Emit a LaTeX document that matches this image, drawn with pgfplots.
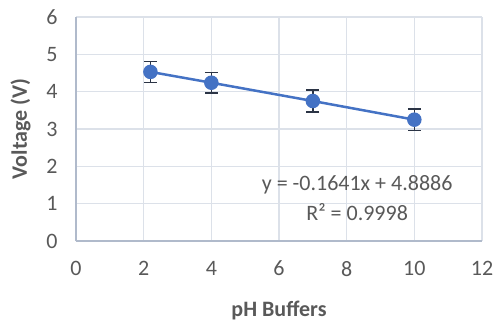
\documentclass[border=0pt]{standalone}
\usepackage{pgfplots}
\pgfplotsset{compat=1.18}
\usepackage{fontspec}
\setmainfont{Carlito}
\definecolor{ptblue}{HTML}{4472C4}
\definecolor{gridc}{HTML}{DCE1E9}
\definecolor{axisc}{HTML}{B0BACB}
\definecolor{txt}{HTML}{595959}
\definecolor{errc}{HTML}{2B3445}
\begin{document}
\begin{tikzpicture}[x=1pt,y=1pt]
\begin{axis}[
  at={(0,0)}, anchor=south west,
  scale only axis, width=406pt, height=224pt,
  xmin=0, xmax=12, ymin=0, ymax=6,
  xtick={0,2,...,12}, ytick={0,1,...,6},
  grid=major, grid style={gridc, line width=1.2pt},
  axis x line*=bottom, axis y line*=left,
  axis line style={axisc, line width=1.5pt},
  tick style={draw=none},
  /pgf/number format/assume math mode=true,
  ticklabel style={font=\fontsize{22}{22}\selectfont, text=txt},
  xticklabel style={yshift=-16.5pt},
  yticklabel style={xshift=-15pt},
  xlabel={pH Buffers}, ylabel={Voltage (V)},
  label style={font=\fontsize{22}{22}\selectfont\bfseries, text=txt},
  xlabel style={at={(axis description cs:0.5,-0.339)}, anchor=base},
  ylabel style={at={(axis description cs:-0.1207,0.5)}, anchor=base},
  clip=false,
]
\addplot[ptblue, line width=2.5pt, mark=*, mark size=6pt,
  mark options={fill=ptblue, draw=ptblue},
  error bars/.cd, y dir=both, y explicit,
  error bar style={errc, line width=1.5pt},
  error mark options={rotate=90, errc, mark size=6.5pt, line width=1.5pt}]
  coordinates {
  (2.2,4.53) +- (0,0.28)
  (4,4.24) +- (0,0.28)
  (7,3.75) +- (0,0.29)
  (10,3.25) +- (0,0.29)
  };
\node[font=\fontsize{22}{22}\selectfont, text=txt, anchor=base] at (axis cs:8.31,1.366) {y = -0.1641x + 4.8886};
\node[font=\fontsize{22}{22}\selectfont, text=txt, anchor=base] at (axis cs:8.31,0.5625) {R² = 0.9998};
\end{axis}
\pgfresetboundingbox
\path[use as bounding box] (-76,-81) rectangle (420,241);
\end{tikzpicture}
\end{document}
